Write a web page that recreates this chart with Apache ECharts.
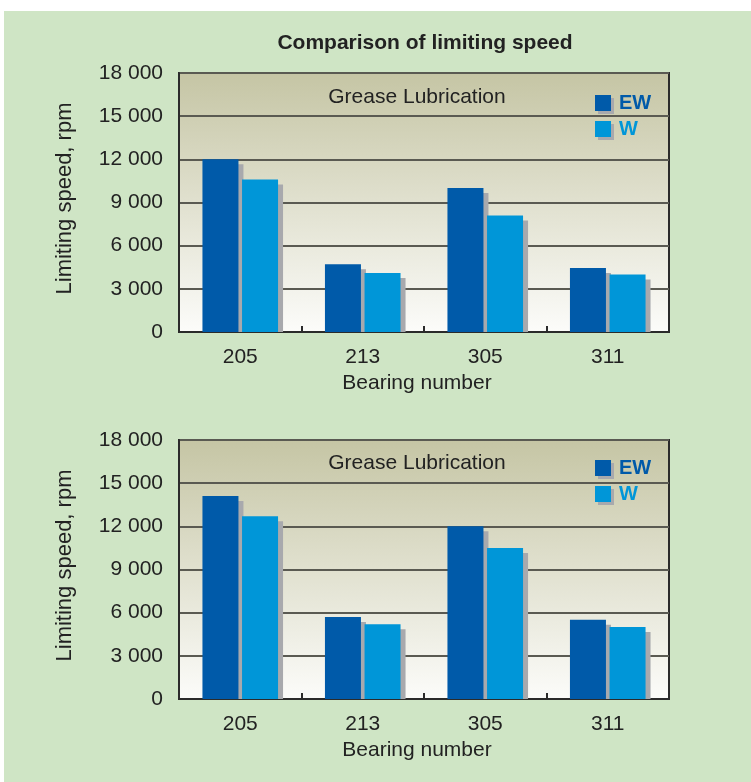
<!DOCTYPE html>
<html>
<head>
<meta charset="utf-8">
<script src="https://cdn.jsdelivr.net/npm/echarts@6/dist/echarts.min.js"></script>
<style>
  html, body { margin: 0; padding: 0; background: #ffffff; width: 751px; height: 782px; overflow: hidden; }
  #chart { position: absolute; left: 4px; top: 11px; width: 747px; height: 771px; }
</style>
</head>
<body>
<div id="chart"></div>
<script>
// ---- data ----
const categories = ['205', '213', '305', '311'];
const seriesNames = ['EW', 'W'];
const ewTop = [12000, 4700, 10000, 4450];
const wTop = [10600, 4100, 8100, 4000];
const ewBottom = [14100, 5700, 12000, 5500];
const wBottom = [12700, 5200, 10500, 5000];
const yMin = 0;
const yMax = 18000;
const yInterval = 3000;
const titleText = 'Comparison of limiting speed';
const panelText = 'Grease Lubrication';
const yName = 'Limiting speed, rpm';
const xName = 'Bearing number';

// ---- style ----
const FONT = 'Liberation Sans, Arial, Helvetica, sans-serif';
const EW_COLOR = '#005aa9';
const W_COLOR = '#0096d8';
const SHADOW = '#a8a9ad';
const TEXT = '#222222';
const BAR_W = 36;
const BAR_GAP = 3.6;
const SH = 5;

const chart = echarts.init(document.getElementById('chart'));

function fmt(v) {
  return String(v).replace(/\B(?=(\d{3})+(?!\d))/g, ' ');
}

const gridBg = new echarts.graphic.LinearGradient(0, 0, 0, 1, [
  { offset: 0, color: '#c5c5a4' },
  { offset: 1, color: '#fcfcfa' }
]);

const grids = [
  { left: 175, top: 62, width: 490, height: 259 },
  { left: 175, top: 429, width: 490, height: 259 }
];

function xAxis(i) {
  return {
    type: 'category', gridIndex: i, data: categories,
    boundaryGap: true,
    axisLine: { show: true, lineStyle: { color: '#2b2b2b', width: 2 } },
    axisTick: { show: true, inside: true, length: 6, lineStyle: { color: '#2b2b2b', width: 2 } },
    axisLabel: { margin: 15, fontSize: 21, color: TEXT, fontFamily: FONT },
    name: xName, nameLocation: 'middle', nameGap: 41,
    nameTextStyle: { fontSize: 21, color: TEXT, fontFamily: FONT, padding: [0, 14, 0, 0] }
  };
}
function yAxis(i) {
  return {
    type: 'value', gridIndex: i, min: yMin, max: yMax, interval: yInterval,
    axisLine: { show: true, lineStyle: { color: '#2b2b2b', width: 2 } },
    axisTick: { show: false },
    axisLabel: { margin: 16, fontSize: 21, color: TEXT, fontFamily: FONT, formatter: fmt },
    splitLine: { show: true, lineStyle: { color: '#5a5a52', width: 2 } },
    name: yName, nameLocation: 'middle', nameGap: 103,
    nameTextStyle: { fontSize: 22, color: TEXT, fontFamily: FONT, padding: [0, 0, 0, 8] }
  };
}
function bar(name, values, color, i, side) {
  return {
    type: 'custom', name: name, xAxisIndex: i, yAxisIndex: i,
    data: values.map((v, k) => [k, v]),
    encode: { x: 0, y: 1 },
    itemStyle: { color: color },
    clip: true,
    renderItem: function (params, api) {
      const top = api.coord([api.value(0), api.value(1)]);
      const base = api.coord([api.value(0), 0]);
      const cx = top[0] + side * (BAR_W + BAR_GAP) / 2;
      const left = cx - BAR_W / 2;
      const h = base[1] - top[1];
      return {
        type: 'group',
        children: [
          { type: 'rect', shape: { x: left + SH, y: top[1] + SH, width: BAR_W, height: Math.max(0, h - SH) }, style: { fill: SHADOW } },
          { type: 'rect', shape: { x: left, y: top[1], width: BAR_W, height: h }, style: { fill: color } }
        ]
      };
    },
    emphasis: { disabled: true },
    animation: false
  };
}
function legend(i, top) {
  return {
    orient: 'vertical', left: 591, top: top, padding: 0,
    itemWidth: 16, itemHeight: 16, itemGap: 6, selectedMode: false,
    icon: 'rect',
    itemStyle: { shadowColor: SHADOW, shadowBlur: 0, shadowOffsetX: 3, shadowOffsetY: 3 },
    textStyle: { fontSize: 20, fontWeight: 'bold', fontFamily: FONT, lineHeight: 16, padding: [0, 0, 0, 3] },
    data: [
      { name: seriesNames[0], textStyle: { color: EW_COLOR } },
      { name: seriesNames[1], textStyle: { color: W_COLOR } }
    ]
  };
}

const option = {
  backgroundColor: '#cfe5c5',
  animation: false,
  title: [
    { text: titleText, left: 416, top: 17, textAlign: 'center',
      textStyle: { fontSize: 21, fontWeight: 'bold', color: TEXT, fontFamily: FONT } },
    { text: panelText, left: 408, top: 71, textAlign: 'center',
      textStyle: { fontSize: 21, fontWeight: 'normal', color: TEXT, fontFamily: FONT } },
    { text: panelText, left: 408, top: 437, textAlign: 'center',
      textStyle: { fontSize: 21, fontWeight: 'normal', color: TEXT, fontFamily: FONT } }
  ],
  legend: [legend(0, 82), legend(1, 447)],
  grid: grids.map(g => Object.assign({}, g, {
    show: true, backgroundColor: gridBg, borderColor: '#2b2b2b', borderWidth: 2, containLabel: false
  })),
  xAxis: [xAxis(0), xAxis(1)],
  yAxis: [yAxis(0), yAxis(1)],
  series: [
    bar(seriesNames[0], ewTop, EW_COLOR, 0, -1),
    bar(seriesNames[1], wTop, W_COLOR, 0, 1),
    bar(seriesNames[0], ewBottom, EW_COLOR, 1, -1),
    bar(seriesNames[1], wBottom, W_COLOR, 1, 1)
  ]
};
chart.setOption(option);
</script>
</body>
</html>
